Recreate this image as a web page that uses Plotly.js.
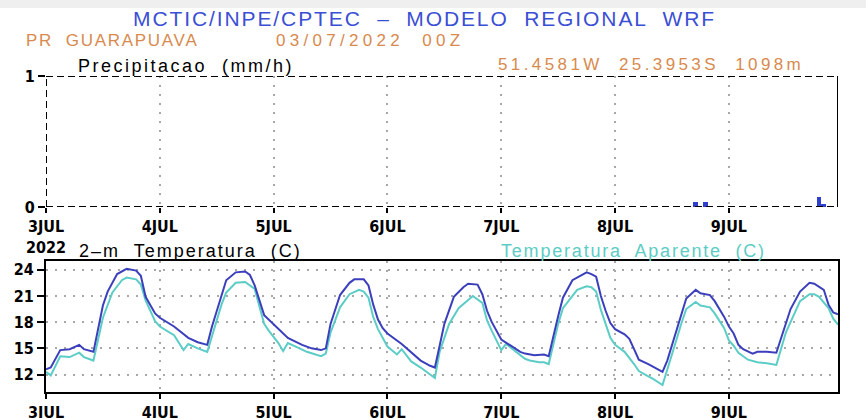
<!DOCTYPE html>
<html>
<head>
<meta charset="utf-8">
<script src="https://cdn.plot.ly/plotly-3.0.1.min.js"></script>
<style>
html,body{margin:0;padding:0;background:#fff;}
#chart{width:866px;height:418px;}
</style>
</head>
<body>
<div id="chart"></div>
<script>
// ---- data (hours since 03/07/2022 00Z) ----
const dayTicks = [0, 24, 48, 72, 96, 120, 144];
const dayLabels = ['3JUL<br>2022', '4JUL', '5JUL', '6JUL', '7JUL', '8JUL', '9JUL'];

const precipHours = [137, 139, 163, 164];
const precipValues = [0.04, 0.035, 0.08, 0.02];

const tempHours = [0,1,3,5,7,8,10,11,12,13,15,17,19,20,21,23,24,27,30,32,34,35,37,38,40,42,43,44,46,47,49,51,54,56,58,59,60,62,64,65,67,68,69,70,71,72,75,77,79,81,82,83,84,86,88,89,91,92,93,94,96,98,100,101,103,105,106,108,109,111,114,115,116,117,118,119,120,122,123,124,125,127,128,130,131,132,134,135,137,138,140,141,143,144,145,146,147,149,150,152,154,156,157,159,161,162,164,165,166,167];
const tempValues = [12.6,12.8,14.8,14.9,15.4,14.9,14.6,17.3,19.9,21.5,23.5,24.1,23.9,23.3,20.9,19.0,18.5,17.5,16.2,15.7,15.4,17.5,21.0,22.8,23.7,23.8,23.4,22.2,18.8,18.3,17.2,16.2,15.4,15.0,14.8,15.0,17.8,21.1,22.5,22.9,22.9,22.2,20.0,18.3,17.3,16.7,15.5,14.5,13.6,13.0,12.8,15.3,17.8,20.9,22.0,22.4,22.3,21.2,19.3,18.0,16.0,15.3,14.6,14.4,14.2,14.3,14.1,18.7,20.8,22.8,23.7,23.5,23.2,21.0,19.3,17.9,17.2,16.6,16.1,14.9,13.7,13.2,12.9,12.3,13.6,15.4,18.9,20.7,21.7,21.3,21.1,20.4,18.6,17.5,16.7,15.4,14.9,14.4,14.6,14.6,14.5,18.0,19.5,21.5,22.5,22.4,21.7,20.0,19.1,18.9];

const aparHours = [0,1,3,5,7,8,10,11,12,14,16,17,19,20,21,23,24,27,29,30,32,34,35,37,38,40,42,44,45,46,47,49,50,51,53,55,58,59,60,62,64,66,67,68,69,70,72,74,75,77,79,82,83,85,87,89,90,92,93,94,96,97,99,101,102,104,105,106,108,109,112,114,115,116,117,119,120,122,124,125,127,128,130,131,133,134,135,137,138,140,141,143,144,145,146,148,150,152,154,156,158,159,161,162,163,165,166,167];
const aparValues = [12.3,11.9,14.1,14.0,14.5,14.0,13.6,16.0,18.5,21.4,22.8,23.1,22.9,22.3,20.5,18.1,17.5,16.5,14.8,15.5,15.0,14.6,16.5,20.0,21.4,22.5,22.6,21.8,19.8,17.8,17.0,15.6,14.7,15.6,15.1,14.6,14.1,14.4,16.8,19.7,21.2,21.7,21.5,20.8,18.6,17.2,15.2,14.3,14.9,13.5,12.8,11.6,14.6,17.8,19.6,20.6,21.0,20.2,18.2,17.0,14.8,15.5,14.6,13.8,13.6,13.4,13.4,13.2,17.8,19.6,21.7,22.1,22.0,21.5,19.4,16.2,15.4,14.6,13.2,12.4,11.8,11.5,10.8,12.5,16.1,17.9,19.5,20.3,19.9,19.7,19.0,17.3,15.9,15.3,14.5,13.7,13.4,13.3,13.1,16.8,19.3,20.4,21.2,21.2,20.9,19.6,18.4,17.7];

const tempTicks = [12, 15, 18, 21, 24];

// ---- layout helpers ----
const W = 866, H = 418;
const px = v => v / W;
const py = v => 1 - v / H;

const XMAX = 167;
const tickFont = {family: 'Liberation Sans Narrow, DejaVu Sans Condensed, Arial Narrow, sans-serif', size: 16, color: '#000', weight: 'bold'};
const textFamily = 'Liberation Sans, Arial, sans-serif';
const gridDash = '2px,7px';
const gridColor = '#a8a8a8';

const traces = [
  {type: 'bar', x: precipHours, y: precipValues, xaxis: 'x', yaxis: 'y',
   marker: {color: '#2f3fd0', line: {width: 0}}, width: 1, hoverinfo: 'skip'},
  {type: 'scatter', mode: 'lines', x: aparHours, y: aparValues, xaxis: 'x2', yaxis: 'y2',
   line: {color: '#5ccdc6', width: 2}},
  {type: 'scatter', mode: 'lines', x: tempHours, y: tempValues, xaxis: 'x2', yaxis: 'y2',
   line: {color: '#3b3fbc', width: 2}}
];

const xCommon = {
  range: [0, XMAX], tickvals: dayTicks, ticktext: dayLabels, tickfont: tickFont,
  ticks: 'outside', ticklen: 5, tickwidth: 2, tickcolor: '#000',
  showgrid: true, gridcolor: gridColor, griddash: gridDash, gridwidth: 2,
  zeroline: false, fixedrange: true
};

// letter spacing (px) applied to each annotation, same order as layout.annotations
const annSpacing = [1.9, 1.7, 4.3, 3.4, 2.5, 2.0, 1.8];

const layout = {
  width: W, height: H,
  margin: {l: 0, r: 0, t: 0, b: 0},
  paper_bgcolor: '#fff', plot_bgcolor: 'rgba(0,0,0,0)',
  showlegend: false,
  bargap: 0,
  xaxis: Object.assign({}, xCommon, {domain: [px(46), px(838)], anchor: 'y', showline: false}),
  yaxis: {domain: [py(207), py(76)], range: [0, 1], tickvals: [0, 1], ticktext: ['0', '1'],
          tickfont: tickFont, ticks: 'outside', ticklen: 7, tickwidth: 2, tickcolor: '#000',
          showgrid: false, zeroline: false, showline: false, anchor: 'x', fixedrange: true},
  xaxis2: Object.assign({}, xCommon, {domain: [px(46), px(838)], anchor: 'y2',
          showline: true, linecolor: '#000', linewidth: 2, mirror: true}),
  yaxis2: {domain: [py(392), py(261)], range: [10, 25], tickvals: tempTicks,
          tickfont: tickFont, ticks: 'outside', ticklen: 7, tickwidth: 2, tickcolor: '#000',
          showgrid: true, gridcolor: gridColor, griddash: gridDash, gridwidth: 2,
          zeroline: false, showline: true, linecolor: '#000', linewidth: 2, mirror: true,
          anchor: 'x2', fixedrange: true},
  shapes: [
    {type: 'rect', xref: 'paper', yref: 'paper', x0: 0, x1: 1, y0: py(8), y1: 1,
     fillcolor: '#efefef', line: {width: 0}, layer: 'below'},
    {type: 'line', xref: 'x', yref: 'y', x0: 0, x1: XMAX, y0: 1, y1: 1, line: {color: '#000', width: 2, dash: '7px,4px'}},
    {type: 'line', xref: 'x', yref: 'y', x0: 0, x1: XMAX, y0: 0, y1: 0, line: {color: '#000', width: 2, dash: '7px,4px'}},
    {type: 'line', xref: 'x', yref: 'y', x0: 0, x1: 0, y0: 0, y1: 1, line: {color: '#000', width: 2, dash: '7px,4px'}},
    {type: 'line', xref: 'x', yref: 'y', x0: XMAX, x1: XMAX, y0: 0, y1: 1, line: {color: '#000', width: 2}}
  ],
  annotations: [
    {text: 'MCTIC/INPE/CPTEC  \u2013  MODELO  REGIONAL  WRF', xref: 'paper', yref: 'paper',
     x: px(131), y: py(18), xanchor: 'left', yanchor: 'middle', showarrow: false,
     font: {family: textFamily, size: 21, color: '#3b4fd4'}},
    {text: 'PR  GUARAPUAVA', xref: 'paper', yref: 'paper', x: px(24), y: py(40),
     xanchor: 'left', yanchor: 'middle', showarrow: false,
     font: {family: textFamily, size: 17, color: '#d88a4e'}},
    {text: '03/07/2022  00Z', xref: 'paper', yref: 'paper', x: px(274), y: py(40),
     xanchor: 'left', yanchor: 'middle', showarrow: false,
     font: {family: textFamily, size: 17, color: '#d88a4e'}},
    {text: '51.4581W  25.3953S  1098m', xref: 'paper', yref: 'paper', x: px(496), y: py(64),
     xanchor: 'left', yanchor: 'middle', showarrow: false,
     font: {family: textFamily, size: 17, color: '#d88a4e'}},
    {text: 'Precipitacao  (mm/h)', xref: 'paper', yref: 'paper', x: px(76), y: py(66),
     xanchor: 'left', yanchor: 'middle', showarrow: false,
     font: {family: textFamily, size: 18, color: '#000'}},
    {text: '2\u2013m  Temperatura  (C)', xref: 'paper', yref: 'paper', x: px(77), y: py(251),
     xanchor: 'left', yanchor: 'middle', showarrow: false,
     font: {family: textFamily, size: 18, color: '#000'}},
    {text: 'Temperatura  Aparente  (C)', xref: 'paper', yref: 'paper', x: px(499), y: py(251),
     xanchor: 'left', yanchor: 'middle', showarrow: false,
     font: {family: textFamily, size: 18, color: '#5ccdc6'}}
  ]
};

Plotly.newPlot('chart', traces, layout, {displayModeBar: false, staticPlot: true}).then(gd => {
  const texts = gd.querySelectorAll('g.annotation text.annotation-text');
  texts.forEach((t, i) => {
    if (annSpacing[i] === undefined) return;
    const left0 = t.getBBox().x;
    t.style.letterSpacing = annSpacing[i] + 'px';
    const left1 = t.getBBox().x;
    const x0 = parseFloat(t.getAttribute('x')) || 0;
    t.setAttribute('x', x0 + (left0 - left1));
  });
});
</script>
</body>
</html>
